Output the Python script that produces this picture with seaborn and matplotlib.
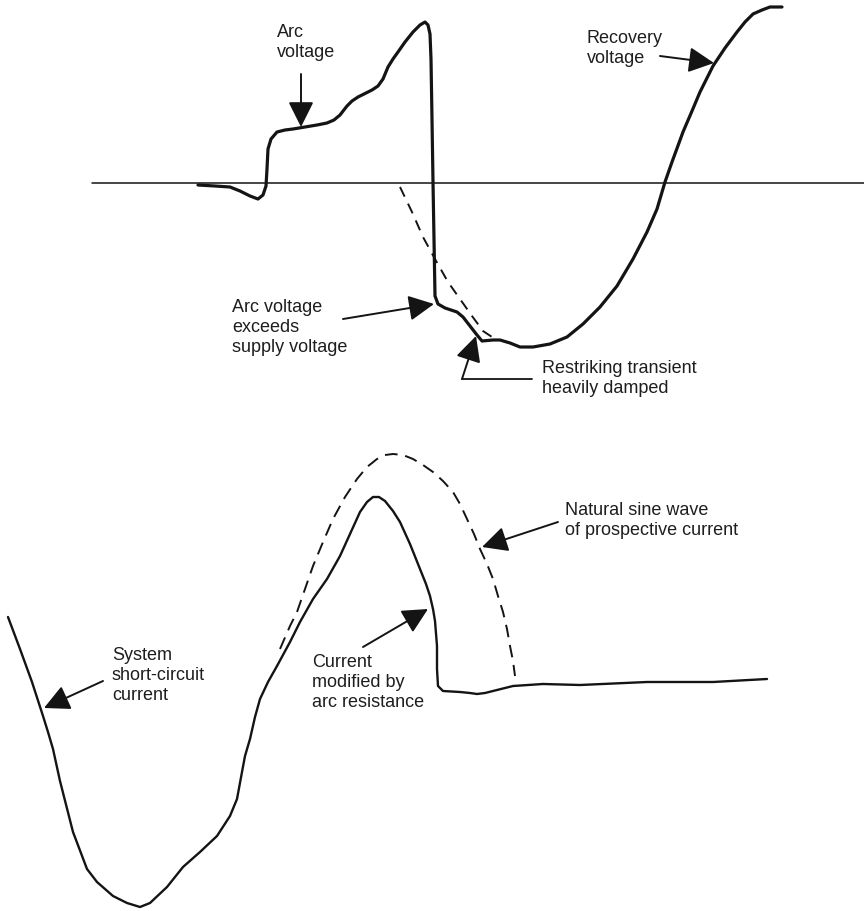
import seaborn as sns
import matplotlib.pyplot as plt

sns.set_style('white')
plt.rcParams['font.family'] = ['Liberation Sans', 'DejaVu Sans']

# (pixel-like units, y grows downward)
axis_x = [92, 864]
axis_y = [184, 184]

voltage_x = [198, 215, 230, 240, 250, 258, 263, 266, 267, 268, 271, 277, 285, 293, 305, 317, 327,
             334, 340, 347, 352, 358, 366, 372, 378, 383, 388, 393, 398, 405, 413, 420, 425, 428,
             430, 431, 432, 433, 434, 435, 438, 445, 457, 463, 470, 477, 482, 493, 500, 510, 520,
             533, 550, 567, 583, 600, 617, 633, 647, 657, 665, 672, 683, 692, 700,
             707, 713, 725, 737, 745, 753, 762, 770, 782]
voltage_y = [186, 187, 188, 192, 197, 200, 196, 187, 170, 150, 140, 133, 131, 130, 128, 126, 124,
             121, 116, 107, 102, 98, 94, 91, 87, 80, 68, 60, 53, 43, 33, 26, 23, 26,
             35, 60, 120, 183, 240, 297, 305, 309, 313, 318, 327, 336, 342, 341, 341, 344, 348,
             348, 345, 338, 325, 308, 287, 260, 233, 210, 183, 163, 133, 112, 93,
             79, 67, 49, 33, 23, 15, 11, 8, 8]

supply_x = [400, 412, 423, 435, 448, 460, 472, 483, 495]
supply_y = [188, 213, 238, 260, 283, 300, 317, 332, 340]

current_x = [8, 20, 32, 43, 48, 53, 60, 73, 87, 97, 113, 127, 140, 150, 167, 183, 200, 217,
             230, 237, 242, 245, 250, 255, 260, 268, 277, 290, 300, 313, 327, 340, 350, 360, 367, 373,
             379, 385, 393, 400, 410, 420, 426, 430, 433, 435, 437, 437, 438, 443, 460, 470, 477,
             485, 493, 513, 543, 580, 647, 713, 767]
current_y = [618, 650, 683, 717, 733, 750, 782, 833, 870, 883, 897, 904, 908, 904, 888, 868, 853,
             837, 817, 800, 773, 757, 740, 718, 700, 683, 667, 643, 623, 600, 580, 557, 535, 513,
             503, 498, 498, 502, 512, 523, 545, 570, 585, 597, 610, 622, 647, 670, 687, 692, 693,
             694, 695, 694, 692, 687, 685, 686, 683, 683, 680]

prospective_x = [280, 290, 297, 305, 313, 323, 333, 345, 357, 367, 377, 385, 393, 403, 413, 423,
                 433, 443, 453, 460, 467, 474, 480, 487, 493, 498, 503, 507, 510, 513, 515]
prospective_y = [650, 627, 613, 590, 567, 543, 520, 498, 480, 468, 460, 456, 455, 456, 460, 466,
                 473, 482, 493, 505, 520, 535, 550, 565, 580, 597, 613, 630, 647, 662, 677]

labels = ['Arc\nvoltage', 'Recovery\nvoltage', 'Arc voltage\nexceeds\nsupply voltage',
          'Restriking transient\nheavily damped', 'Natural sine wave\nof prospective current',
          'Current\nmodified by\narc resistance', 'System\nshort-circuit\ncurrent']
label_x = [277, 587, 232, 542, 565, 312, 112]
label_y = [24, 30, 299, 360, 502, 654, 647]

arrow_tail = [(301, 75), (660, 57), (343, 320), (462, 380), (558, 523), (363, 648), (103, 682)]
arrow_tip = [(301, 128), (714, 64), (434, 305), (476, 337), (482, 548), (428, 610), (44, 709)]

ink = '#141414'

fig = plt.figure(figsize=(8.64, 9.12), dpi=100)
ax = fig.add_axes([0, 0, 1, 1])

sns.lineplot(x=axis_x, y=axis_y, sort=False, estimator=None, color=ink, linewidth=1.1, ax=ax)
sns.lineplot(x=voltage_x, y=voltage_y, sort=False, estimator=None, color=ink, linewidth=2.3, ax=ax)
sns.lineplot(x=supply_x, y=supply_y, sort=False, estimator=None, color=ink, linewidth=1.4,
             linestyle=(0, (5.5, 4)), ax=ax)
sns.lineplot(x=current_x, y=current_y, sort=False, estimator=None, color=ink, linewidth=1.7, ax=ax)
sns.lineplot(x=prospective_x, y=prospective_y, sort=False, estimator=None, color=ink, linewidth=1.4,
             linestyle=(0, (6.5, 4)), ax=ax)

# elbow of the restriking label leader
ax.plot([532, 462], [380, 380], color=ink, linewidth=1.3)

for (tx, ty), (hx, hy) in zip(arrow_tail, arrow_tip):
    ax.annotate('', xy=(hx, hy), xytext=(tx, ty),
                arrowprops=dict(arrowstyle='-|>,head_length=1.2,head_width=0.6',
                                color=ink, lw=1.4, shrinkA=0, shrinkB=0, mutation_scale=13))

for txt, x, y in zip(labels, label_x, label_y):
    ax.text(x, y, txt, fontsize=13, color='#1e1e1e', va='top', ha='left', linespacing=1.22)

ax.set_xlim(0, 864)
ax.set_ylim(912, 0)
ax.axis('off')

fig.savefig('out.png', dpi=100)
